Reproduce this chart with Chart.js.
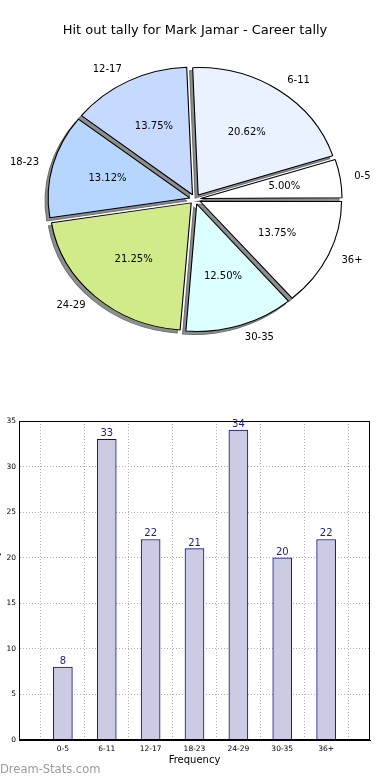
<!DOCTYPE html>
<html><head><meta charset="utf-8">
<script src="https://cdn.jsdelivr.net/npm/chart.js@4"></script>
<style>
html,body{margin:0;padding:0;background:#fff;width:390px;height:780px;overflow:hidden;position:relative}
#pie{position:absolute;left:0;top:0;}
#bar{position:absolute;left:-14px;top:400px;}
#wm{position:absolute;left:0;top:762px;font:11.5px 'DejaVu Sans';color:#9a9a9a;white-space:nowrap;}
</style></head><body>
<canvas id="pie" width="390" height="400"></canvas>
<canvas id="bar" width="404" height="380"></canvas>
<div id="wm">Dream-Stats.com</div>
<script>
const TITLE = 'Hit out tally for Mark Jamar - Career tally';
const categories = ['0-5','6-11','12-17','18-23','24-29','30-35','36+'];
const tally = [8,33,22,21,34,20,22];
const sliceColors = ['#ffffff','#eaf1ff','#c6d9ff','#b7d6ff','#d1eb8b','#dcffff','#ffffff'];
const yTicks = [0,5,10,15,20,25,30,35];
const xAxisTitle = 'Frequency';
const yAxisTitle = 'Hit Out Tally';

const FONT = 'DejaVu Sans';
const SX = 1.11;          // horizontal stretch of the pie (ellipse like the original)
const OFFSET = 20;        // Chart.js arc offset (translates by offset/4)
const R = 127.5;

// python-like "%1.2f" formatting of a percentage (round half to even on exact ties)
function pct2(frac){
  const x = frac * 10000;
  let n = Math.round(x);
  if (Math.abs(x - Math.floor(x) - 0.5) < 1e-9) { n = Math.floor(x); if (n % 2) n += 1; }
  return (n / 100).toFixed(2) + '%';
}

const total = tally.reduce((a,b)=>a+b,0);
// matplotlib draws counter-clockwise from 3 o'clock; Chart.js goes clockwise -> reverse
const pieLabels = categories.slice().reverse();
const pieData = tally.slice().reverse();
const pieColors = sliceColors.slice().reverse();

function arcGeom(a){
  const off = (a.options.offset||0)/4;
  const mid = (a.startAngle + a.endAngle)/2;
  const circ = a.endAngle - a.startAngle;
  const fix = off*(1 - Math.sin(Math.min(Math.PI, circ)));
  return {off, mid, fix};
}

const pieFx = {
  id:'pieFx',
  beforeDatasetsDraw(chart){
    const ctx = chart.ctx;
    const meta = chart.getDatasetMeta(0);
    const R0 = meta.controller.outerRadius;
    // keep every wedge at the same radius (Chart.js grows narrow offset wedges)
    meta.data.forEach(a=>{ const g = arcGeom(a); a.outerRadius = R0 - g.fix; });
    const cx = meta.data[0].x;
    ctx.save();
    ctx.translate(cx,0); ctx.scale(SX,1); ctx.translate(-cx,0);
    // shadows
    ctx.save();
    ctx.translate(-3/SX, 3);
    meta.data.forEach(a=>{
      const g = arcGeom(a);
      const x = a.x + Math.cos(g.mid)*g.off, y = a.y + Math.sin(g.mid)*g.off;
      ctx.beginPath();
      ctx.moveTo(x,y);
      ctx.arc(x,y,R0,a.startAngle,a.endAngle);
      ctx.closePath();
      ctx.fillStyle = '#8e8e8e';
      ctx.fill();
      ctx.lineWidth = 1;
      ctx.strokeStyle = '#707070';
      ctx.stroke();
    });
    ctx.restore();
  },
  afterDatasetsDraw(chart){
    const ctx = chart.ctx;
    ctx.restore();
    const meta = chart.getDatasetMeta(0);
    const R0 = meta.controller.outerRadius;
    ctx.save();
    ctx.fillStyle = '#000';
    ctx.font = '10px "' + FONT + '"';
    ctx.textBaseline = 'middle';
    meta.data.forEach((a,i)=>{
      const g = arcGeom(a);
      const c = Math.cos(g.mid), s = Math.sin(g.mid);
      const lx = a.x + SX*(g.off + 1.1*R0)*c;
      const ly = a.y + (g.off + 1.1*R0)*s;
      ctx.textAlign = c > 0 ? 'left' : 'right';
      ctx.fillText(pieLabels[i], lx, ly);
      const px = a.x + SX*(g.off + 0.6*R0)*c;
      const py = a.y + (g.off + 0.6*R0)*s;
      ctx.textAlign = 'center';
      ctx.fillText(pct2(pieData[i]/total), px, py);
    });
    ctx.restore();
  }
};

new Chart(document.getElementById('pie'), {
  type:'pie',
  data:{labels:pieLabels, datasets:[{
    data:pieData, backgroundColor:pieColors, borderColor:'#000', borderWidth:1,
    offset:OFFSET, radius:R, clip:false
  }]},
  options:{
    responsive:false, animation:false, events:[], rotation:90,
    layout:{padding:{top:0,bottom:50.2,left:0,right:0}},
    plugins:{
      legend:{display:false}, tooltip:{enabled:false},
      title:{display:true, text:TITLE, color:'#000',
        font:{family:FONT, size:13, weight:'normal'}, padding:{top:23,bottom:10}}
    }
  },
  plugins:[pieFx]
});

const barFx = {
  id:'barFx',
  afterDatasetsDraw(chart){
    const ctx = chart.ctx;
    const meta = chart.getDatasetMeta(0);
    ctx.save();
    ctx.fillStyle = '#1c1c8c';
    ctx.font = '10px "' + FONT + '"';
    ctx.textAlign = 'center';
    ctx.textBaseline = 'alphabetic';
    meta.data.forEach((b,i)=>{ ctx.fillText(String(tally[i]), b.x, b.y - 3); });
    ctx.restore();
  },
  afterDraw(chart){
    const {ctx, chartArea:a} = chart;
    ctx.save();
    ctx.strokeStyle = '#000'; ctx.lineWidth = 1;
    ctx.strokeRect(Math.round(a.left)+0.5, Math.round(a.top)+0.5, Math.round(a.right-a.left)-1, Math.round(a.bottom-a.top)-1);
    ctx.restore();
  }
};

new Chart(document.getElementById('bar'), {
  type:'bar',
  data:{datasets:[{
    data:categories.map((c,i)=>({x:i, y:tally[i]})),
    backgroundColor:'#cbcbe4', borderColor:'#0c0c86', borderWidth:1, barThickness:19
  }]},
  options:{
    responsive:false, animation:false, events:[],
    layout:{padding:{top:21,right:20,left:0,bottom:0}},
    plugins:{legend:{display:false}, tooltip:{enabled:false}},
    scales:{
      x:{type:'linear', min:-1, max:categories.length, offset:false, z:1,
        ticks:{stepSize:1, autoSkip:false, maxRotation:0, padding:5, color:'#000',
          font:{family:FONT, size:7.5}, callback:v=>categories[v] ?? ''},
        grid:{color:'#b0b0b0', drawTicks:false},
        border:{color:'#000', dash:[1,2]},
        title:{display:true, text:xAxisTitle, color:'#000', font:{family:FONT, size:10}, padding:{top:0,bottom:14}},
        afterFit(s){ s.height = 40; }
      },
      y:{min:yTicks[0], max:yTicks[yTicks.length-1], z:1,
        afterBuildTicks(s){ s.ticks = yTicks.map(v=>({value:v})); },
        ticks:{padding:3, color:'#000', font:{family:FONT, size:7.5}},
        grid:{color:'#b0b0b0', drawTicks:false},
        border:{color:'#000', dash:[1,2]},
        title:{display:true, text:yAxisTitle, color:'#000', font:{family:FONT, size:10}, padding:{top:4,bottom:0}},
        afterFit(s){ s.width = 33; }
      }
    }
  },
  plugins:[barFx]
});
</script>
</body></html>
